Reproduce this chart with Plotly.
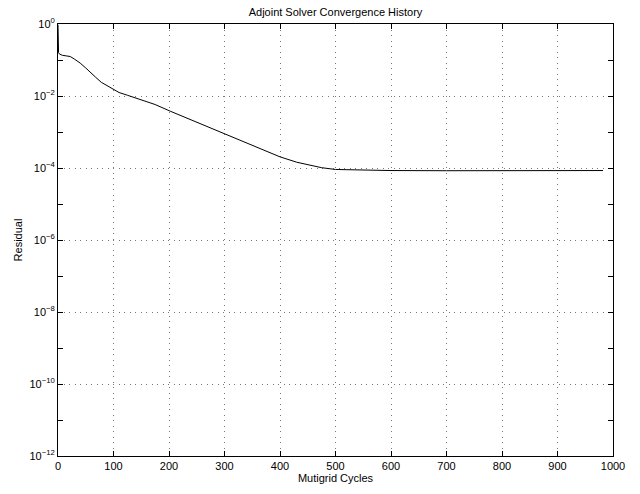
import plotly.graph_objects as go

cycles = [0, 1, 3, 8, 15, 22, 30, 40, 50, 58, 68, 78, 90, 100, 110, 125, 148, 175, 202,
          230, 256, 280, 300, 328, 360, 400, 430, 454, 475, 500, 540, 600, 700, 800, 900, 982]
residual = [0.95, 0.16, 0.145, 0.135, 0.13, 0.125, 0.105, 0.082, 0.06, 0.045, 0.033, 0.024,
            0.019, 0.015, 0.0125, 0.0105, 0.0079, 0.0058, 0.0038, 0.0025, 0.0017, 0.00123,
            0.00091, 0.00059, 0.000355, 0.000204, 0.000145, 0.00012, 0.000102, 0.000091,
            0.000087, 0.000085, 0.000084, 0.000084, 0.000085, 0.000085]

x_ticks = [0, 100, 200, 300, 400, 500, 600, 700, 800, 900, 1000]
y_major = [1e0, 1e-2, 1e-4, 1e-6, 1e-8, 1e-10, 1e-12]
y_major_text = ["10<sup>0</sup>", "10<sup>−2</sup>", "10<sup>−4</sup>", "10<sup>−6</sup>",
                "10<sup>−8</sup>", "10<sup>−10</sup>", "10<sup>−12</sup>"]
y_minor = [1e-1, 1e-3, 1e-5, 1e-7, 1e-9, 1e-11]

font = dict(family="Liberation Sans, Arial, Helvetica, sans-serif", size=11, color="black")
grid = dict(showgrid=True, gridcolor="#777", griddash="1px,4.5px", gridwidth=1)

fig = go.Figure()
fig.add_trace(go.Scatter(x=cycles, y=residual, mode="lines",
                         line=dict(color="black", width=1), showlegend=False))

fig.update_layout(
    width=640, height=494,
    margin=dict(l=58, r=27, t=24, b=36),
    paper_bgcolor="white", plot_bgcolor="white",
    font=font,
    title=dict(text="Adjoint Solver Convergence History", x=335.5/640, xanchor="center",
               y=1 - 12/494, yanchor="middle", yref="container", font=dict(size=11)),
)
fig.update_xaxes(
    range=[0, 1000], tickmode="array", tickvals=x_ticks,
    ticks="inside", ticklen=5, tickcolor="black", tickwidth=1,
    showline=True, linecolor="black", linewidth=1, mirror="allticks",
    zeroline=False, **grid,
    title=dict(text="Mutigrid Cycles", standoff=2, font=dict(size=11)),
)
fig.update_yaxes(
    type="log", range=[-12, 0], tickmode="array", tickvals=y_major, ticktext=y_major_text,
    ticks="inside", ticklen=5, tickcolor="black", tickwidth=1,
    showline=True, linecolor="black", linewidth=1, mirror="allticks",
    zeroline=False, **grid,
    minor=dict(tickmode="array", tickvals=y_minor, ticks="inside", ticklen=5,
               tickcolor="black", showgrid=False),
    title=dict(text="Residual", standoff=4, font=dict(size=11)),
)

fig.write_html("out.html")
